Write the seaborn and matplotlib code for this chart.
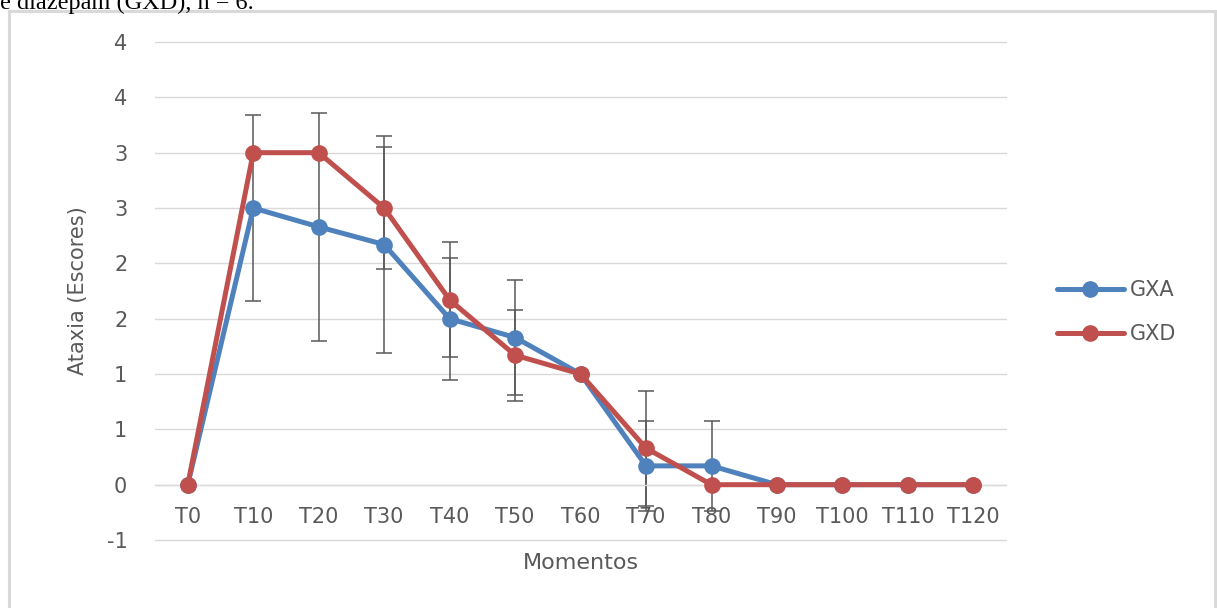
import numpy as np
import pandas as pd
import matplotlib
matplotlib.use("Agg")
import matplotlib.pyplot as plt
from matplotlib.patches import Rectangle
import seaborn as sns

# ---- data ----
momentos = ["T0", "T10", "T20", "T30", "T40", "T50", "T60", "T70", "T80", "T90", "T100", "T110", "T120"]
gxa = [0, 2.5, 2.33, 2.17, 1.5, 1.33, 1.0, 0.17, 0.17, 0, 0, 0, 0]
gxd = [0, 3.0, 3.0, 2.5, 1.67, 1.17, 1.0, 0.33, 0, 0, 0, 0, 0]
gxa_sd = [0, 0.84, 1.03, 0.98, 0.55, 0.52, 0, 0.41, 0.41, 0, 0, 0, 0]
gxd_sd = [0, 0, 0, 0.55, 0.52, 0.41, 0, 0.52, 0, 0, 0, 0, 0]
ytick_vals = [-0.5, 0, 0.5, 1, 1.5, 2, 2.5, 3, 3.5, 4]
ytick_labels = ["-1", "0", "1", "1", "2", "2", "3", "3", "4", "4"]
series_names = ["GXA", "GXD"]
colors = {"GXA": "#4F81BD", "GXD": "#C0504D"}

df = pd.DataFrame({
    "Momento": momentos * 2,
    "Escore": gxa + gxd,
    "SD": gxa_sd + gxd_sd,
    "Grupo": ["GXA"] * len(momentos) + ["GXD"] * len(momentos),
})

sns.set_theme(style="white")
plt.rcParams["font.family"] = ["DejaVu Sans"]
text_color = "#595959"
grid_color = "#D9D9D9"

fig = plt.figure(figsize=(12.17, 6.08), dpi=100)
ax = fig.add_axes([0.1274, 0.1118, 0.6993, 0.8191])

# error bars (drawn beneath the lines)
xpos = np.arange(len(momentos))
for name in series_names:
    sub = df[df["Grupo"] == name]
    m = sub["SD"].values > 0
    ax.errorbar(xpos[m], sub["Escore"].values[m], yerr=sub["SD"].values[m],
                fmt="none", ecolor="#595959", elinewidth=1.1, capsize=6,
                capthick=1.1, zorder=2)

sns.lineplot(data=df, x="Momento", y="Escore", hue="Grupo", palette=colors,
             marker="o", markersize=12, markeredgewidth=0, linewidth=3.6,
             sort=False, ax=ax, zorder=3, legend=True)

ax.set_xlim(-0.5, len(momentos) - 0.5)
ax.set_ylim(-0.5, 4.0)
ax.set_yticks(ytick_vals)
ax.set_yticklabels(ytick_labels)
ax.grid(axis="y", color=grid_color, linewidth=1.0)
ax.grid(axis="x", visible=False)
for gl in ax.get_ygridlines():
    gl.set_clip_on(False)
ax.set_axisbelow(True)

for s in ["left", "right", "top"]:
    ax.spines[s].set_visible(False)
ax.spines["bottom"].set_position(("data", 0))
ax.spines["bottom"].set_color(grid_color)
ax.spines["bottom"].set_linewidth(1.0)

ax.tick_params(axis="x", length=0, pad=16, labelsize=15, labelcolor=text_color)
ax.tick_params(axis="y", length=0, pad=20, labelsize=15, labelcolor=text_color)

ax.set_xlabel("Momentos", fontsize=16, color=text_color)
ax.xaxis.set_label_coords(0.5, -0.027)
ax.set_ylabel("Ataxia (Escores)", fontsize=15, color=text_color)
ax.yaxis.set_label_coords(-0.079, 0.5)

handles, labels = ax.get_legend_handles_labels()
leg = ax.legend(handles, labels, loc="center left",
                bbox_to_anchor=(0.8685, 0.4868), bbox_transform=fig.transFigure,
                frameon=False, fontsize=15, handlelength=3.2, handletextpad=0.3,
                labelspacing=1.15, borderpad=0, borderaxespad=0)
for t in leg.get_texts():
    t.set_color(text_color)

# chart border
fig.patches.append(Rectangle((9 / 1217, -0.01), (1215 - 9) / 1217, 1 - 11 / 608 + 0.01,
                             transform=fig.transFigure, fill=False,
                             edgecolor="#D9D9D9", linewidth=2.2))

# cut-off caption text above the chart
fig.text(0.0, 1 - 9 / 608, "e diazepam (GXD), n = 6.", fontsize=17.5,
         family=["Liberation Serif", "DejaVu Serif"], color="black", va="baseline", ha="left")

fig.savefig("out.png", dpi=100)
